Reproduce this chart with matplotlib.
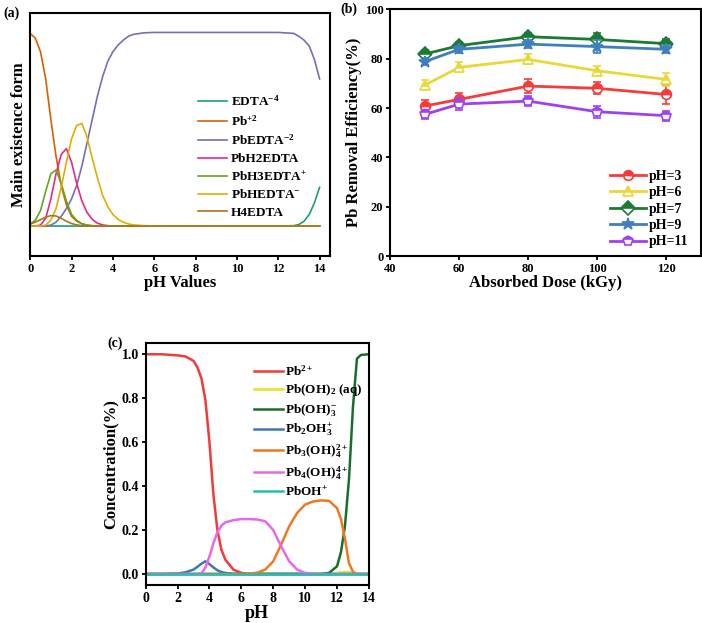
import numpy as np
import matplotlib
matplotlib.use('Agg')
import matplotlib.pyplot as plt

plt.rcParams['font.family'] = ['Liberation Serif', 'DejaVu Serif']
plt.rcParams['font.weight'] = 'bold'
plt.rcParams['axes.labelweight'] = 'bold'
plt.rcParams['mathtext.fontset'] = 'custom'
plt.rcParams['mathtext.rm'] = 'Liberation Serif:bold'
plt.rcParams['mathtext.bf'] = 'Liberation Serif:bold'
plt.rcParams['mathtext.it'] = 'Liberation Serif:bold'
plt.rcParams['mathtext.default'] = 'rm'

# ---------- (a) EDTA speciation ----------
ph_a = [0, 0.25, 0.5, 0.75, 1.0, 1.25, 1.5, 1.75, 2.0, 2.25, 2.5, 2.75, 3.0, 3.25, 3.5, 3.75, 4.0, 4.25, 4.5, 4.75,
        5.0, 5.5, 6.0, 8.0, 10.0, 12.0, 12.75, 13.0, 13.25, 13.5, 13.75, 14.0]
edta4 = [0, 0, 0, 0, 0, 0, 0, 0, 0, 0, 0, 0, 0, 0, 0, 0, 0, 0, 0, 0,
         0, 0, 0, 0, 0, 0, 0.002, 0.008, 0.025, 0.06, 0.12, 0.2]
pb2 = [0.995, 0.97, 0.9, 0.76, 0.55, 0.36, 0.21, 0.11, 0.05, 0.025, 0.012, 0.005, 0.002, 0, 0, 0, 0, 0, 0, 0,
       0, 0, 0, 0, 0, 0, 0, 0, 0, 0, 0, 0]
pbedta2 = [0, 0, 0, 0, 0.005, 0.02, 0.05, 0.09, 0.14, 0.21, 0.31, 0.43, 0.55, 0.67, 0.77, 0.85, 0.9, 0.935, 0.96, 0.98,
           0.99, 0.998, 1.0, 1.0, 1.0, 1.0, 0.995, 0.98, 0.96, 0.93, 0.86, 0.76]
pbh2edta = [0, 0, 0.005, 0.04, 0.14, 0.27, 0.37, 0.4, 0.33, 0.22, 0.13, 0.07, 0.035, 0.015, 0.006, 0.002, 0, 0, 0, 0,
            0, 0, 0, 0, 0, 0, 0, 0, 0, 0, 0, 0]
pbh3edta = [0.01, 0.03, 0.08, 0.18, 0.27, 0.29, 0.22, 0.13, 0.06, 0.03, 0.012, 0.004, 0.001, 0, 0, 0, 0, 0, 0, 0,
            0, 0, 0, 0, 0, 0, 0, 0, 0, 0, 0, 0]
pbhedta = [0, 0, 0, 0.005, 0.03, 0.09, 0.2, 0.33, 0.45, 0.52, 0.53, 0.46, 0.35, 0.25, 0.16, 0.1, 0.06, 0.035, 0.02, 0.011,
           0.006, 0.002, 0, 0, 0, 0, 0, 0, 0, 0, 0, 0]
h4edta = [0.01, 0.02, 0.033, 0.046, 0.054, 0.052, 0.04, 0.025, 0.013, 0.006, 0.002, 0, 0, 0, 0, 0, 0, 0, 0, 0,
          0, 0, 0, 0, 0, 0, 0, 0, 0, 0, 0, 0]
labels_a = ['EDTA$^{-4}$', 'Pb$^{+2}$', 'PbEDTA$^{-2}$', 'PbH2EDTA', 'PbH3EDTA$^{+}$', 'PbHEDTA$^{-}$', 'H4EDTA']
colors_a = ['#1b9e77', '#d95f02', '#7570b3', '#e7298a', '#66a61e', '#e6ab02', '#a6761d']

# ---------- (b) removal efficiency ----------
dose = [50, 60, 80, 100, 120]
ph_levels = ['pH=3', 'pH=6', 'pH=7', 'pH=9', 'pH=11']
eff_ph3 = [60.8, 63.5, 68.9, 68.0, 65.5]
eff_ph6 = [69.3, 76.5, 79.7, 75.1, 71.6]
eff_ph7 = [81.9, 85.3, 88.9, 87.8, 86.1]
eff_ph9 = [78.8, 83.8, 85.9, 84.9, 83.8]
eff_ph11 = [57.4, 61.6, 62.8, 58.5, 56.9]
err_ph3 = [2.5, 2.5, 3.0, 2.5, 4.0]
err_ph6 = [2.0, 2.0, 2.0, 2.0, 2.5]
err_ph7 = [1.5, 1.5, 1.5, 2.5, 2.0]
err_ph9 = [1.5, 1.5, 1.5, 2.5, 1.5]
err_ph11 = [2.0, 2.5, 2.0, 2.5, 2.0]
colors_b = ['#f53b3b', '#e8d838', '#1c7a34', '#3d7fbf', '#a040f0']
markers_b = ['o', '^', 'D', '*', 'p']

# ---------- (c) Pb hydrolysis ----------
ph_c = [0, 1, 2, 2.5, 3, 3.25, 3.5, 3.75, 4, 4.25, 4.5, 4.75, 5, 5.5, 6, 6.5, 7, 7.5, 8, 8.5, 9, 9.5, 10, 10.5, 11,
        11.5, 12, 12.25, 12.5, 12.75, 13, 13.25, 13.5, 14]
pb2_c = [1.0, 1.0, 0.995, 0.99, 0.97, 0.94, 0.89, 0.79, 0.6, 0.36, 0.2, 0.11, 0.065, 0.02, 0.005, 0, 0, 0, 0, 0, 0, 0, 0, 0, 0,
         0, 0, 0, 0, 0, 0, 0, 0, 0]
pboh2 = [0, 0, 0, 0, 0, 0, 0, 0, 0, 0, 0, 0, 0, 0, 0, 0, 0, 0, 0, 0, 0, 0, 0, 0, 0,
         0, 0.004, 0.007, 0.009, 0.008, 0.004, 0.001, 0, 0]
pboh3 = [0, 0, 0, 0, 0, 0, 0, 0, 0, 0, 0, 0, 0, 0, 0, 0, 0, 0, 0, 0, 0, 0, 0, 0, 0,
         0.005, 0.035, 0.1, 0.22, 0.43, 0.76, 0.98, 0.997, 1.0]
pb2oh3 = [0, 0, 0.002, 0.008, 0.02, 0.033, 0.047, 0.058, 0.045, 0.03, 0.017, 0.009, 0.005, 0.001, 0, 0, 0, 0, 0, 0, 0, 0, 0, 0, 0,
          0, 0, 0, 0, 0, 0, 0, 0, 0]
pb3oh4 = [0, 0, 0, 0, 0, 0, 0, 0, 0, 0, 0, 0, 0, 0, 0, 0.002, 0.006, 0.02, 0.058, 0.134, 0.217, 0.278, 0.316, 0.33, 0.335,
          0.333, 0.3, 0.25, 0.16, 0.05, 0.01, 0, 0, 0]
pb4oh4 = [0, 0, 0, 0, 0, 0, 0.002, 0.03, 0.08, 0.14, 0.19, 0.22, 0.235, 0.245, 0.25, 0.25, 0.248, 0.24, 0.2, 0.126, 0.058, 0.02,
          0.005, 0.001, 0, 0, 0, 0, 0, 0, 0, 0, 0, 0]
pboh = [0.002] * len(ph_c)
labels_c = ['Pb$^{2+}$', 'Pb(OH)$_{2}$ (aq)', 'Pb(OH)$_{3}^{-}$', 'Pb$_{2}$OH$_{3}^{+}$',
            'Pb$_{3}$(OH)$_{4}^{2+}$', 'Pb$_{4}$(OH)$_{4}^{4+}$', 'PbOH$^{+}$']
colors_c = ['#f23a3a', '#e8e020', '#1a6e2a', '#3f78b0', '#f07820', '#e868e8', '#20c0b0']

fig = plt.figure(figsize=(7.02, 6.23), dpi=100)

# panel a
ax1 = fig.add_axes([0.043, 0.589, 0.427, 0.390])
for ys, c, lab in zip([edta4, pb2, pbedta2, pbh2edta, pbh3edta, pbhedta, h4edta], colors_a, labels_a):
    ax1.plot(ph_a, ys, color=c, lw=1.2, label=lab)
ax1.set_xlim(0, 14.5)
ax1.set_ylim(-0.155, 1.1)
ax1.set_xticks(range(0, 15, 2))
ax1.set_yticks([])
ax1.set_xlabel('pH Values', fontsize=12, labelpad=0)
ax1.set_ylabel('Main existence form', fontsize=12, labelpad=2)
ax1.legend(loc='center left', bbox_to_anchor=(0.52, 0.41), frameon=False, fontsize=9.5,
           handlelength=2.2, labelspacing=0.38, handletextpad=0.3)
ax1.text(-0.09, 1.0, '(a)', transform=ax1.transAxes, fontsize=10, ha='left', va='center')

# panel b
ax2 = fig.add_axes([0.556, 0.589, 0.442, 0.396])
for ys, es, c, m, lab in zip([eff_ph3, eff_ph6, eff_ph7, eff_ph9, eff_ph11],
                             [err_ph3, err_ph6, err_ph7, err_ph9, err_ph11],
                             colors_b, markers_b, ph_levels):
    ax2.errorbar(dose, ys, yerr=es, color=c, lw=0, elinewidth=1.2, capsize=3, capthick=1.2)
    ax2.plot(dose, ys, color=c, lw=2, marker=m, ms=7 if m != '*' else 9,
             fillstyle='top', markerfacecoloralt='white', markeredgewidth=1.2, label=lab)
ax2.set_xlim(40, 130)
ax2.set_ylim(0, 100)
ax2.set_xticks([40, 60, 80, 100, 120])
ax2.set_yticks(range(0, 101, 20))
ax2.set_xlabel('Absorbed Dose (kGy)', fontsize=12, labelpad=0)
ax2.set_ylabel('Pb Removal Efficiency(%)', fontsize=12, labelpad=2)
ax2.legend(loc='lower right', bbox_to_anchor=(1.0, -0.02), frameon=False, fontsize=10,
           handlelength=2.6, labelspacing=0.25, handletextpad=0.2)
ax2.text(-0.16, 1.0, '(b)', transform=ax2.transAxes, fontsize=10, ha='left', va='center')

# panel c
ax3 = fig.add_axes([0.2075, 0.061, 0.318, 0.388])
for ys, c, lab in zip([pb2_c, pboh2, pboh3, pb2oh3, pb3oh4, pb4oh4, pboh], colors_c, labels_c):
    ax3.plot(ph_c, ys, color=c, lw=1.8, label=lab)
ax3.set_xlim(0, 14)
ax3.set_ylim(-0.05, 1.05)
ax3.set_xticks(range(0, 15, 2))
ax3.set_yticks(np.arange(0, 1.01, 0.2))
ax3.set_yticklabels(['0.0', '0.2', '0.4', '0.6', '0.8', '1.0'])
ax3.set_xlabel('pH', fontsize=13, labelpad=0)
ax3.set_ylabel('Concentration(%)', fontsize=12, labelpad=2)
ax3.legend(loc='upper left', bbox_to_anchor=(0.43, 0.965), frameon=False, fontsize=9.5,
           handlelength=2.2, labelspacing=0.3, handletextpad=0.2)
ax3.text(-0.17, 1.0, '(c)', transform=ax3.transAxes, fontsize=10, ha='left', va='center')

for ax in [ax1, ax2, ax3]:
    for s in ax.spines.values():
        s.set_linewidth(1.5)
    ax.tick_params(direction='out', width=1.3, length=3, labelsize=9, pad=2)
ax3.tick_params(labelsize=10)

plt.savefig('out.png', dpi=100)
